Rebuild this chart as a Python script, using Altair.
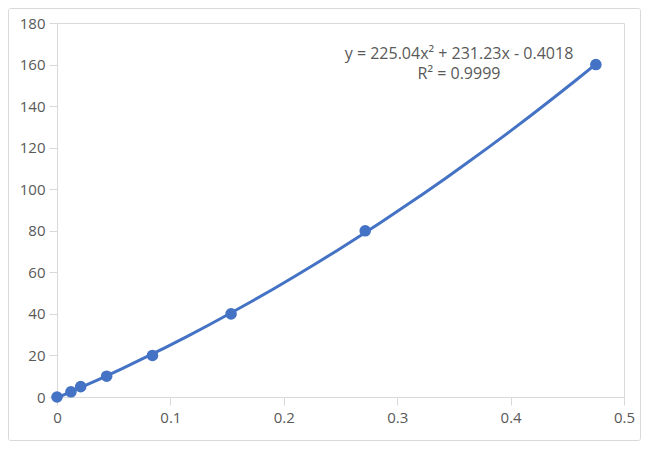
import altair as alt
import pandas as pd

# Data
x_vals = [0, 0.0123, 0.0209, 0.0438, 0.0842, 0.1535, 0.2718, 0.4752]
y_vals = [0, 2.5, 5, 10, 20, 40, 80, 160]
x_ticks = [0, 0.1, 0.2, 0.3, 0.4, 0.5]
y_ticks = [0, 20, 40, 60, 80, 100, 120, 140, 160, 180]
eq_lines = ["y = 225.04x\u00b2 + 231.23x - 0.4018", "R\u00b2 = 0.9999"]

df = pd.DataFrame({"x": x_vals, "y": y_vals})

BLUE = "#4472C4"
GRAY = "#D9D9D9"
TXT = "#595959"
FONT = "Open Sans"

xs = alt.Scale(domain=[0, 0.5], nice=False, zero=True)
ys = alt.Scale(domain=[0, 180], nice=False, zero=True)

x_enc = alt.X("x:Q", scale=xs, axis=alt.Axis(values=x_ticks, format="~g", title=None,
                                            grid=False, tickSize=8, labelPadding=5,
                                            labelFlush=False, labelOverlap=False))
y_enc = alt.Y("y:Q", scale=ys, axis=alt.Axis(values=y_ticks, title=None, grid=False,
                                            tickSize=8, labelPadding=4,
                                            labelFlush=False, labelOverlap=False))

base = alt.Chart(df)

trend = base.transform_regression("x", "y", method="poly", order=2).mark_line(
    color=BLUE, strokeWidth=3
).encode(x=x_enc, y=y_enc)

points = base.mark_point(filled=True, color=BLUE, size=135, opacity=1).encode(x=x_enc, y=y_enc)

eq1 = alt.Chart(pd.DataFrame({"t": [eq_lines[0]]})).mark_text(
    font=FONT, fontSize=16, color=TXT, align="center", baseline="middle"
).encode(text="t:N", x=alt.value(402), y=alt.value(31))

eq2 = alt.Chart(pd.DataFrame({"t": [eq_lines[1]]})).mark_text(
    font=FONT, fontSize=16, color=TXT, align="center", baseline="middle"
).encode(text="t:N", x=alt.value(402), y=alt.value(51))

border = alt.Chart(pd.DataFrame({"a": [0]})).mark_rect(
    fill=None, stroke=GRAY, strokeWidth=1, clip=False, cornerRadius=2
).encode(x=alt.value(-48.5), x2=alt.value(583.5), y=alt.value(-14.5), y2=alt.value(417.5))

chart = alt.layer(border, trend, points, eq1, eq2).properties(
    width=567, height=374,
    padding={"left": 49, "top": 15, "right": 17, "bottom": 44},
    autosize=alt.AutoSizeParams(type="none"),
    background="white",
).configure_view(stroke=GRAY, strokeWidth=1).configure_axis(
    domainColor=GRAY, tickColor=GRAY, labelColor=TXT, labelFont=FONT, labelFontSize=15,
    domainWidth=1, tickWidth=1
)

chart.save("out.html", embed_options={"renderer": "svg", "actions": False})
